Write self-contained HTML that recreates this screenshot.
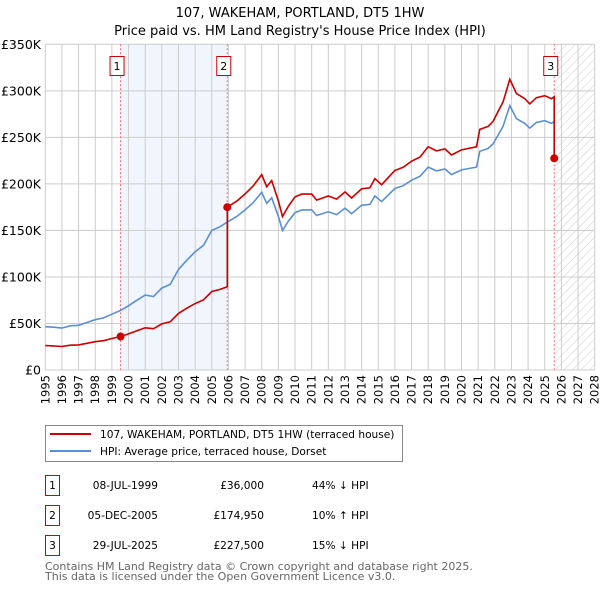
<!DOCTYPE html>
<html><head><meta charset="utf-8"><style>
body{margin:0;background:#fff;font-family:"Liberation Sans","DejaVu Sans",sans-serif;}
svg text{font-family:"DejaVu Sans","Liberation Sans",sans-serif;}
</style></head><body>
<svg id="c" width="600" height="590" xmlns="http://www.w3.org/2000/svg">
<defs><pattern id="hatch" width="6" height="6" patternUnits="userSpaceOnUse" patternTransform="rotate(45)"><line x1="0" y1="0" x2="0" y2="6" stroke="#ccc" stroke-width="1"/></pattern></defs>
<text x="300" y="17" text-anchor="middle" font-size="13">107, WAKEHAM, PORTLAND, DT5 1HW</text>
<text x="300" y="35" text-anchor="middle" font-size="13">Price paid vs. HM Land Registry's House Price Index (HPI)</text>
<g id="plot"></g>
<g>
<rect x="45.5" y="425.5" width="357" height="36" fill="#fff" stroke="#888"/>
<line x1="50" y1="434" x2="91" y2="434" stroke="#cc0000" stroke-width="2"/>
<text x="100" y="438" font-size="10.6">107, WAKEHAM, PORTLAND, DT5 1HW (terraced house)</text>
<line x1="50" y1="451" x2="91" y2="451" stroke="#5b8fd4" stroke-width="2"/>
<text x="100" y="455" font-size="10.6">HPI: Average price, terraced house, Dorset</text>
</g>
<g font-size="10.6">
<rect x="45.5" y="475.5" width="14" height="20" fill="#fff" stroke="#cc0000"/><text x="52.5" y="489" text-anchor="middle">1</text>
<text x="158" y="489" text-anchor="end">08-JUL-1999</text><text x="264" y="489" text-anchor="end">£36,000</text><text x="312" y="489">44% ↓ HPI</text>
<rect x="45.5" y="505.5" width="14" height="20" fill="#fff" stroke="#cc0000"/><text x="52.5" y="519" text-anchor="middle">2</text>
<text x="158" y="519" text-anchor="end">05-DEC-2005</text><text x="264" y="519" text-anchor="end">£174,950</text><text x="312" y="519">10% ↑ HPI</text>
<rect x="45.5" y="535.5" width="14" height="20" fill="#fff" stroke="#cc0000"/><text x="52.5" y="549" text-anchor="middle">3</text>
<text x="158" y="549" text-anchor="end">29-JUL-2025</text><text x="264" y="549" text-anchor="end">£227,500</text><text x="312" y="549">15% ↓ HPI</text>
</g>
<text x="45" y="570" font-size="11" fill="#666">Contains HM Land Registry data © Crown copyright and database right 2025.</text>
<text x="45" y="580" font-size="11" fill="#666">This data is licensed under the Open Government Licence v3.0.</text>
</svg>
<script>
const hpiDates=[1995.0,1995.5,1996.0,1996.5,1997.0,1997.5,1998.0,1998.5,1999.0,1999.52,2000.0,2000.5,2001.0,2001.5,2002.0,2002.5,2003.0,2003.5,2004.0,2004.5,2005.0,2005.5,2005.93,2006.5,2007.0,2007.5,2008.0,2008.3,2008.6,2009.0,2009.25,2009.6,2010.0,2010.4,2011.0,2011.3,2012.0,2012.5,2013.0,2013.4,2014.0,2014.5,2014.8,2015.2,2016.0,2016.5,2017.0,2017.5,2018.0,2018.5,2019.0,2019.4,2020.0,2020.9,2021.1,2021.6,2021.9,2022.5,2022.9,2023.3,2023.8,2024.1,2024.5,2025.0,2025.4,2025.57];
const hpiValues=[46.5,46,45,47.5,48,51,54,56,60,64,69,75,80.5,79,88,92,108,118,127,134,150,154,159,165,172,180,191,179,185,165,150,160,169,172,172,166,170,167,174,168,177,178,187,181,195,198,204,208,218,214,216,210,215,218,235,238,243,262,284,270,265,260,266,268,265,267];
const redDates=[1995.0,1995.5,1996.0,1996.5,1997.0,1997.5,1998.0,1998.5,1999.0,1999.52,2000.0,2000.5,2001.0,2001.5,2002.0,2002.5,2003.0,2003.5,2004.0,2004.5,2005.0,2005.5,2005.93,2005.93,2006.5,2007.0,2007.5,2008.0,2008.3,2008.6,2009.0,2009.25,2009.6,2010.0,2010.4,2011.0,2011.3,2012.0,2012.5,2013.0,2013.4,2014.0,2014.5,2014.8,2015.2,2016.0,2016.5,2017.0,2017.5,2018.0,2018.5,2019.0,2019.4,2020.0,2020.9,2021.1,2021.6,2021.9,2022.5,2022.9,2023.3,2023.8,2024.1,2024.5,2025.0,2025.4,2025.57,2025.57];
const redValues=[26.2,25.9,25.3,26.7,27,28.7,30.4,31.5,33.8,36,38.8,42.2,45.3,44.4,49.5,51.8,60.8,66.4,71.4,75.4,84.4,86.6,89.4,174.95,181.5,189.2,198,210,197,203.5,181.5,165,176,186,189,189,182.6,187,183.7,191.4,184.8,194.7,195.8,205.7,199.1,214.5,217.8,224.4,228.8,239.8,235.4,237.6,231,236.5,239.8,258.5,261.8,267.3,288.2,312.4,297,291.5,286,292.6,294.8,291.5,293.7,227.5];
const saleDates=[1999.52,2005.93,2025.57];
const salePrices=[36,174.95,227.5];
const saleLabels=["1","2","3"];
const yTicks=[0,50,100,150,200,250,300,350];
const yTickLabels=["£0","£50K","£100K","£150K","£200K","£250K","£300K","£350K"];
const xStart=1995,xEnd=2028;

const L=45.3,R=594.7,T=44.3,B=370;
const X=d=>L+(d-xStart)/(xEnd-xStart)*(R-L);
const Y=v=>B-v/350*(B-T);
const NS="http://www.w3.org/2000/svg";
const g=document.getElementById('plot');
function mk(tag,attrs,parent){const e=document.createElementNS(NS,tag);for(const k in attrs)e.setAttribute(k,attrs[k]);(parent||g).appendChild(e);return e;}
let sh=mk('rect',{x:X(saleDates[0]),y:T,width:X(saleDates[1])-X(saleDates[0]),height:B-T,fill:'#eef3fc',opacity:0.8});


let ht=mk('rect',{x:X(saleDates[2]),y:T,width:R-X(saleDates[2]),height:B-T,fill:'url(#hatch)'});


for(let yr=xStart;yr<=xEnd;yr++){
 let l=mk('line',{x1:X(yr),x2:X(yr),y1:T,y2:B,stroke:'#ccc','stroke-width':1});
 
 
 let t=mk('text',{x:0,y:0,'font-size':11.5,'text-anchor':'end',transform:`translate(${X(yr)+4},${B+5}) rotate(-90)`});
 t.textContent=yr;
 
 
}
yTicks.forEach((v,i)=>{
 let l=mk('line',{x1:L,x2:R,y1:Y(v),y2:Y(v),stroke:'#ccc','stroke-width':1});
 
 
 let t=mk('text',{x:41,y:Y(v)+4.5,'font-size':12.5,'text-anchor':'end'});
 t.textContent=yTickLabels[i];
 
 
});
saleDates.forEach(d=>{
 let l=mk('line',{x1:X(d),x2:X(d),y1:T,y2:B,stroke:'#f07070','stroke-width':1,'stroke-dasharray':'2,2'});
 
 
});
const pts=(ds,vs)=>ds.map((d,i)=>X(d).toFixed(1)+','+Y(vs[i]).toFixed(1)).join(' ');
let hl=mk('polyline',{points:pts(hpiDates,hpiValues),fill:'none',stroke:'#5b8fd4','stroke-width':1.6});


let rl=mk('polyline',{points:pts(redDates,redValues),fill:'none',stroke:'#cc0000','stroke-width':1.6});


saleDates.forEach((d,i)=>{
 let c=mk('circle',{cx:X(d),cy:Y(salePrices[i]),r:4,fill:'#cc0000'});
 
 
 let bx=mk('rect',{x:X(d)-10.5,y:56.5,width:14,height:19,fill:'#fff',stroke:'#cc0000'});
 
 
 let t=mk('text',{x:X(d)-3.5,y:70,'font-size':11,'text-anchor':'middle'});
 t.textContent=saleLabels[i];
 
 
});
</script>
</body></html>
